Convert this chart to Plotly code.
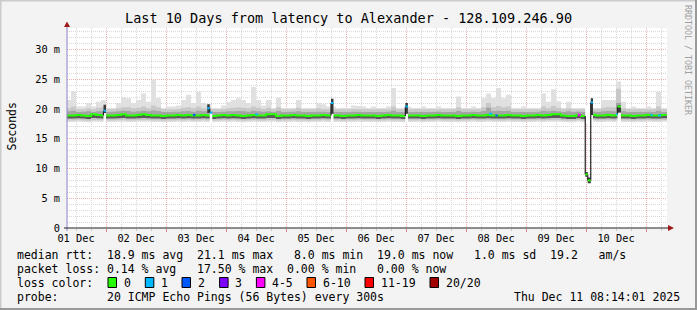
import plotly.graph_objects as go
import pandas as pd

# ---------------- data ----------------
title_text = "Last 10 Days from latency to Alexander - 128.109.246.90"
grid_start = "2025-12-01 08:00"   # first 2-hour sample
step_hours = 2
view_start = "2025-12-01 08:24"
view_end = "2025-12-11 08:24"

median_ms = [
    18.9, 18.9, 19.0, 18.9, 18.8, 19.1, 19.0, 18.9, 18.9, 18.9,
    19.0, 19.1, 18.9, 18.9, 19.0, 19.1, 19.0, 18.9, 18.9, 18.8,
    18.9, 18.9, 19.0, 18.9, 19.0, 18.9, 18.9, 19.0, 18.9, 18.8,
    18.9, 19.0, 18.9, 19.0, 18.9, 18.8, 18.9, 19.0, 18.9, 18.9,
    19.1, 19.1, 18.8, 18.9, 18.9, 19.0, 18.9, 18.9, 18.8, 18.9,
    18.9, 19.0, 18.9, 18.9, 18.9, 18.8, 18.9, 18.9, 19.0, 18.9,
    18.9, 18.9, 18.8, 18.9, 19.0, 18.9, 18.9, 18.8, 18.9, 18.9,
    18.9, 18.8, 18.9, 18.9, 19.0, 18.9, 18.9, 18.9, 18.8, 18.9,
    18.9, 19.0, 18.9, 18.9, 19.0, 18.9, 18.9, 18.9, 19.0, 18.9,
    18.9, 18.8, 18.9, 18.9, 19.0, 18.9, 19.0, 19.1, 19.1, 18.9,
    18.8, 18.8, 19.0, 18.8, 18.9, 19.0, 18.9, 18.9, 19.0, 18.9,
    19.0, 18.9, 18.9, 18.8, 18.9, 18.9, 19.0, 18.9, 18.9, 19.0, 19.0]

ping_max = [
    21.5, 23.0, 20.4, 20.4, 21.0, 20.4, 21.2, 21.5, 20.1, 20.1,
    21.0, 22.0, 21.8, 21.0, 21.5, 22.6, 21.2, 24.9, 21.8, 20.1,
    20.4, 20.4, 20.6, 21.5, 22.4, 21.0, 22.9, 21.0, 20.8, 20.1,
    20.1, 20.6, 21.2, 21.5, 21.8, 21.5, 21.0, 23.7, 21.5, 20.6,
    21.5, 20.1, 21.9, 20.1, 20.1, 20.1, 21.5, 20.1, 20.1, 20.1,
    21.0, 20.8, 20.4, 20.4, 20.1, 20.2, 20.1, 20.6, 20.5, 20.4,
    20.1, 20.4, 20.1, 20.1, 20.4, 23.5, 20.1, 20.1, 20.4, 20.1,
    20.1, 20.4, 20.1, 20.1, 20.4, 20.1, 20.1, 20.1, 22.1, 20.1,
    20.1, 20.4, 20.1, 21.8, 22.6, 21.8, 23.5, 21.8, 22.4, 20.1,
    20.1, 20.4, 20.1, 20.1, 20.1, 22.6, 21.2, 23.3, 21.3, 20.1,
    21.2, 20.1, 20.1, 20.1, 20.1, 20.1, 20.1, 21.5, 21.5, 21.5,
    24.6, 21.2, 20.1, 20.4, 20.1, 20.1, 20.4, 20.1, 22.9, 20.1, 20.1]

ping_p90 = [
    20.1, 20.4, 19.95, 19.95, 20.1, 19.95, 20.2, 20.3, 19.95, 19.95,
    20.1, 20.3, 20.3, 20.1, 20.2, 20.4, 20.1, 20.6, 20.3, 19.95,
    19.95, 19.95, 20.0, 20.2, 20.3, 20.1, 20.4, 20.1, 20.1, 19.95,
    19.95, 20.0, 20.1, 20.2, 20.3, 20.2, 20.1, 20.4, 20.2, 20.0,
    20.2, 19.95, 20.3, 19.95, 19.95, 19.95, 20.2, 19.95, 19.95, 19.95,
    20.1, 20.0, 19.95, 19.95, 19.95, 19.95, 19.95, 20.0, 20.0, 19.95,
    19.95, 19.95, 19.95, 19.95, 19.95, 20.4, 19.95, 19.95, 19.95, 19.95,
    19.95, 19.95, 19.95, 19.95, 19.95, 19.95, 19.95, 19.95, 20.3, 19.95,
    19.95, 19.95, 19.95, 20.3, 21.0, 20.3, 20.5, 20.3, 20.4, 19.95,
    19.95, 19.95, 19.95, 19.95, 19.95, 20.4, 20.1, 20.5, 20.2, 19.95,
    20.1, 19.95, 19.95, 19.95, 19.95, 19.95, 19.95, 20.2, 20.3, 20.3,
    23.4, 20.1, 19.95, 19.95, 19.95, 19.95, 19.95, 19.95, 20.4, 19.95, 19.95]

ping_p75 = [
    19.6, 19.7, 19.5, 19.55, 19.6, 19.5, 19.6, 19.65, 19.5, 19.55,
    19.6, 19.7, 19.65, 19.55, 19.6, 19.7, 19.6, 19.75, 19.65, 19.5,
    19.5, 19.55, 19.55, 19.6, 19.65, 19.55, 19.7, 19.6, 19.6, 19.5,
    19.5, 19.55, 19.6, 19.6, 19.65, 19.6, 19.55, 19.7, 19.6, 19.55,
    19.6, 19.5, 19.65, 19.5, 19.5, 19.55, 19.6, 19.5, 19.5, 19.5,
    19.55, 19.55, 19.5, 19.5, 19.5, 19.5, 19.5, 19.55, 19.55, 19.5,
    19.5, 19.5, 19.5, 19.5, 19.55, 19.7, 19.5, 19.5, 19.5, 19.5,
    19.5, 19.5, 19.5, 19.5, 19.55, 19.5, 19.5, 19.5, 19.65, 19.5,
    19.5, 19.55, 19.5, 19.65, 20.2, 19.65, 19.7, 19.65, 19.7, 19.5,
    19.5, 19.5, 19.5, 19.5, 19.55, 19.7, 19.6, 19.7, 19.6, 19.5,
    19.6, 19.5, 19.55, 19.5, 19.5, 19.55, 19.5, 19.6, 19.65, 19.6,
    21.0, 19.6, 19.5, 19.5, 19.5, 19.5, 19.55, 19.5, 19.7, 19.5, 19.5]

ping_p25 = [
    18.4, 18.4, 18.45, 18.4, 18.3, 18.5, 18.45, 18.4, 18.4, 18.4,
    18.45, 18.5, 18.4, 18.4, 18.45, 18.5, 18.45, 18.4, 18.4, 18.3,
    18.4, 18.4, 18.45, 18.4, 18.45, 18.4, 18.4, 18.45, 18.4, 18.3,
    18.4, 18.45, 18.4, 18.45, 18.4, 18.3, 18.4, 18.45, 18.4, 18.4,
    18.5, 18.5, 18.3, 18.4, 18.4, 18.45, 18.4, 18.4, 18.3, 18.4,
    18.4, 18.45, 18.4, 18.4, 18.4, 18.3, 18.4, 18.4, 18.45, 18.4,
    18.4, 18.4, 18.3, 18.4, 18.45, 18.4, 18.4, 18.3, 18.4, 18.4,
    18.4, 18.3, 18.4, 18.4, 18.45, 18.4, 18.4, 18.4, 18.3, 18.4,
    18.4, 18.45, 18.4, 18.4, 18.45, 18.4, 18.4, 18.4, 18.45, 18.4,
    18.4, 18.3, 18.4, 18.4, 18.45, 18.4, 18.45, 18.5, 18.5, 18.4,
    18.3, 18.3, 18.45, 18.3, 18.4, 18.45, 18.4, 18.4, 18.45, 18.4,
    18.45, 18.4, 18.4, 18.3, 18.4, 18.4, 18.45, 18.4, 18.4, 18.45, 18.45]

ping_p10 = [
    18.05, 18.05, 18.1, 18.05, 18.0, 18.1, 18.1, 18.05, 18.05, 18.05,
    18.1, 18.1, 18.05, 18.05, 18.1, 18.1, 18.1, 18.05, 18.05, 18.0,
    18.05, 18.05, 18.1, 18.05, 18.1, 18.05, 18.05, 18.1, 18.05, 18.0,
    18.05, 18.1, 18.05, 18.1, 18.05, 18.0, 18.05, 18.1, 18.05, 18.05,
    18.1, 18.1, 18.0, 18.05, 18.05, 18.1, 18.05, 18.05, 18.0, 18.05,
    18.05, 18.1, 18.05, 18.05, 18.05, 18.0, 18.05, 18.05, 18.1, 18.05,
    18.05, 18.05, 18.0, 18.05, 18.1, 18.05, 18.05, 18.0, 18.05, 18.05,
    18.05, 18.0, 18.05, 18.05, 18.1, 18.05, 18.05, 18.05, 18.0, 18.05,
    18.05, 18.1, 18.05, 18.05, 18.1, 18.05, 18.05, 18.05, 18.1, 18.05,
    18.05, 18.0, 18.05, 18.05, 18.1, 18.05, 18.1, 18.1, 18.1, 18.05,
    18.0, 18.0, 18.1, 18.0, 18.05, 18.1, 18.05, 18.05, 18.1, 18.05,
    18.1, 18.05, 18.05, 18.0, 18.05, 18.05, 18.1, 18.05, 18.05, 18.1, 18.1]

ping_min = [
    17.8, 17.8, 17.85, 17.8, 17.75, 17.85, 17.85, 17.8, 17.8, 17.8,
    17.85, 17.85, 17.8, 17.8, 17.85, 17.85, 17.85, 17.8, 17.8, 17.75,
    17.8, 17.8, 17.85, 17.8, 17.85, 17.8, 17.8, 17.85, 17.8, 17.75,
    17.8, 17.85, 17.8, 17.85, 17.8, 17.75, 17.8, 17.85, 17.8, 17.8,
    17.85, 17.85, 17.75, 17.8, 17.8, 17.85, 17.8, 17.8, 17.75, 17.8,
    17.8, 17.85, 17.8, 17.8, 17.8, 17.75, 17.8, 17.8, 17.85, 17.8,
    17.8, 17.8, 17.75, 17.8, 17.85, 17.8, 17.8, 17.75, 17.8, 17.8,
    17.8, 17.75, 17.8, 17.8, 17.85, 17.8, 17.8, 17.8, 17.75, 17.8,
    17.8, 17.85, 17.8, 17.8, 17.85, 17.8, 17.8, 17.8, 17.85, 17.8,
    17.8, 17.75, 17.8, 17.8, 17.85, 17.8, 17.85, 17.85, 17.85, 17.8,
    17.75, 17.75, 17.85, 17.75, 17.8, 17.85, 17.8, 17.8, 17.85, 17.8,
    17.85, 17.8, 17.8, 17.75, 17.8, 17.8, 17.85, 17.8, 17.8, 17.85, 17.85]

# short events (finer than the 2 h grid): loss spots, spikes and the drop
ev_start = ["2025-12-01 23:00", "2025-12-03 10:45", "2025-12-03 16:30", "2025-12-03 17:30",
            "2025-12-04 11:45", "2025-12-05 18:00", "2025-12-06 23:45", "2025-12-08 09:15",
            "2025-12-08 11:45", "2025-12-09 20:40", "2025-12-09 23:42", "2025-12-10 00:42",
            "2025-12-10 01:54", "2025-12-10 12:00", "2025-12-10 12:36", "2025-12-11 01:50",
            "2025-12-11 04:48"]
ev_hours = [1.0, 1.0, 1.0, 1.0, 1.0, 1.0, 1.0, 1.2, 1.0, 1.3, 1.0, 1.2, 0.9, 0.6, 1.4, 0.8, 1.2]
ev_median = [19.7, 19.0, 20.1, 19.4, 19.1, 21.0, 20.4, 19.2, 18.9, 19.0, 9.0, 8.0, 21.1, 19.1,
             20.4, 19.0, 18.9]
ev_loss = [1, 2, 1, 1, 1, 1, 1, 1, 2, 4, 0, 0, 1, 1, 0, 1, 1]
ev_clear_lo = [17.7, None, None, 17.7, None, 17.7, 17.7, None, None, None, 17.6, 17.6, 17.6,
               None, 17.6, None, None]
ev_clear_hi = [19.3, None, None, 19.2, None, 19.2, 19.2, None, None, None, 20.6, 20.6, 19.0,
               None, 19.4, None, None]
ev_dark_lo = [19.3, None, 19.3, None, None, 19.2, 19.2, None, None, None, 8.6, 7.5, 19.0,
              None, 19.4, None, None]
ev_dark_hi = [20.7, None, 20.8, None, None, 21.7, 21.0, None, None, None, 9.4, 8.5, 21.8,
              None, 20.6, None, None]

loss_labels = ["0", "1", "2", "3", "4-5", "6-10", "11-19", "20/20"]
loss_colors = ["#26ff00", "#00b8ff", "#0059ff", "#7e00ff", "#ff00ff", "#ff5500", "#ff0000", "#a00000"]
loss_upper = [0, 1, 2, 3, 5, 10, 19, 20]

y_tick_vals = [0, 5, 10, 15, 20, 25, 30]
y_tick_text = ["0", "5 m", "10 m", "15 m", "20 m", "25 m", "30 m"]

rtt_avg, rtt_max, rtt_min, rtt_now, rtt_sd, rtt_ams = 18.9, 21.1, 8.0, 19.0, 1.0, 19.2
loss_avg, loss_max, loss_min, loss_now = 0.14, 17.50, 0.00, 0.00
probe_text = "20 ICMP Echo Pings (56 Bytes) every 300s"
stamp_text = "Thu Dec 11 08:14:01 2025"

# ---------------- layout helpers ----------------
W, H = 697, 310
L, R, T, B = 67, 667, 28, 228
MONO = "DejaVu Sans Mono"


def px(x):
    return (x - L) / (R - L)


def py(y):
    return (B - y) / (B - T)


def bucket(loss):
    for k, up in enumerate(loss_upper):
        if loss <= up:
            return k
    return len(loss_upper) - 1


t0 = pd.Timestamp(grid_start)
n = len(median_ms)
starts = [t0 + pd.Timedelta(hours=step_hours * i) for i in range(n)]
step_h = [float(step_hours)] * n

fig = go.Figure()


def add_rects(x, hours, lo, hi, color):
    """Step-wise smoke band drawn as filled polygons (keeps trace order)."""
    xs, ys = [], []
    for xi, h, a, b in zip(x, hours, lo, hi):
        if a is None or b is None:
            continue
        e = xi + pd.Timedelta(hours=h)
        xs += [xi, e, e, xi, xi, None]
        ys += [a, a, b, b, a, None]
    fig.add_scatter(x=xs, y=ys, mode="lines", fill="toself", fillcolor=color,
                    line=dict(width=0, color=color), hoverinfo="skip", showlegend=False)


add_rects(starts, step_h, ping_min, ping_max, "#e0e0e0")
add_rects(starts, step_h, ping_p10, ping_p90, "#c8c8c8")
add_rects(starts, step_h, median_ms, ping_p75, "#a4a4a4")
add_rects(starts, step_h, ping_p25, median_ms, "#5a5a5a")

# main median line (green, step)
end_t = starts[-1] + pd.Timedelta(hours=step_hours)
fig.add_scatter(x=starts + [end_t], y=median_ms + [median_ms[-1]], mode="lines",
                line=dict(color=loss_colors[0], width=2, shape="hv"),
                hoverinfo="skip", showlegend=False)

# events
ev_t = [pd.Timestamp(s) for s in ev_start]
add_rects(ev_t, ev_hours, ev_clear_lo, ev_clear_hi, "#ffffff")
add_rects(ev_t, ev_hours, ev_dark_lo, ev_dark_hi, "#3a3a3a")

# dark connecting verticals for the gap events
vx, vy = [], []
for k in range(len(ev_t)):
    if ev_clear_lo[k] is None:
        continue
    if k > 0 and abs((ev_t[k - 1] + pd.Timedelta(hours=ev_hours[k - 1]) - ev_t[k]).total_seconds()) < 120:
        prev = ev_median[k - 1]
    else:
        idx = int((ev_t[k] - t0).total_seconds() // (step_hours * 3600))
        prev = median_ms[idx]
    vx += [ev_t[k], ev_t[k], None]
    vy += [prev, ev_median[k], None]
fig.add_scatter(x=vx, y=vy, mode="lines", line=dict(color="#202020", width=1.2),
                hoverinfo="skip", showlegend=False)

for b in range(len(loss_colors)):
    sx, sy = [], []
    for k in range(len(ev_t)):
        if bucket(ev_loss[k]) != b:
            continue
        sx += [ev_t[k], ev_t[k] + pd.Timedelta(hours=ev_hours[k]), None]
        sy += [ev_median[k], ev_median[k], None]
    if sx:
        fig.add_scatter(x=sx, y=sy, mode="lines", line=dict(color=loss_colors[b], width=2),
                        hoverinfo="skip", showlegend=False)

# ---------------- axes ----------------
major_grid = "#efb0b0"
minor_grid = "#d8d8d8"
fig.update_layout(
    width=W, height=H,
    margin=dict(l=L, r=W - R, t=T, b=H - B, pad=0),
    paper_bgcolor="#f3f3f3", plot_bgcolor="#ffffff",
    showlegend=False,
    font=dict(family=MONO, color="#000000"),
    xaxis=dict(type="date", range=[view_start, view_end], tick0="2025-12-01",
               dtick=86400000, tickformat="%d %b", ticklabelmode="period",
               showgrid=True, gridcolor=major_grid, griddash="1px,1px", gridwidth=1,
               ticks="outside", ticklen=3, tickcolor="#e08080", tickwidth=1,
               ticklabelstandoff=-2,
               tickfont=dict(family=MONO, size=10.3, color="#000000"),
               showline=False, zeroline=False, fixedrange=True,
               minor=dict(tick0="2025-12-01", dtick=21600000, showgrid=True,
                          gridcolor=minor_grid, griddash="1px,1px", gridwidth=1,
                          ticks="outside", ticklen=2, tickcolor="#cccccc")),
    yaxis=dict(range=[0, 33.6], tickmode="array", tickvals=y_tick_vals, ticktext=y_tick_text,
               showgrid=True, gridcolor=major_grid, griddash="1px,1px", gridwidth=1,
               ticks="", ticklabelstandoff=6,
               tickfont=dict(family=MONO, size=10.3, color="#000000"),
               showline=False, zeroline=False, fixedrange=True,
               minor=dict(tickmode="linear", tick0=0, dtick=1, showgrid=True,
                          gridcolor=minor_grid, griddash="1px,1px", gridwidth=1)),
)

shapes = []
# frame (3D border)
shapes.append(dict(type="line", xref="paper", yref="paper", x0=px(0.5), x1=px(0.5), y0=py(0), y1=py(H),
                   line=dict(color="#cbcbcb", width=2)))
shapes.append(dict(type="line", xref="paper", yref="paper", x0=px(0), x1=px(W), y0=py(0.5), y1=py(0.5),
                   line=dict(color="#cbcbcb", width=2)))
shapes.append(dict(type="line", xref="paper", yref="paper", x0=px(W - 1), x1=px(W - 1), y0=py(0), y1=py(H),
                   line=dict(color="#999999", width=2)))
shapes.append(dict(type="line", xref="paper", yref="paper", x0=px(0), x1=px(W), y0=py(H - 1), y1=py(H - 1),
                   line=dict(color="#999999", width=2)))
# axes and arrows
shapes.append(dict(type="line", xref="paper", yref="paper", x0=px(67), x1=px(67), y0=py(231), y1=py(26),
                   line=dict(color="#8b83c9", width=1)))
shapes.append(dict(type="line", xref="paper", yref="paper", x0=px(64), x1=px(669), y0=py(228), y1=py(228),
                   line=dict(color="#1f1f1f", width=1)))
shapes.append(dict(type="path", xref="paper", yref="paper",
                   path=f"M {px(64)},{py(27)} L {px(67)},{py(21.5)} L {px(70)},{py(27)} Z",
                   fillcolor="#9e1a1a", line=dict(width=0)))
shapes.append(dict(type="path", xref="paper", yref="paper",
                   path=f"M {px(668)},{py(225)} L {px(674)},{py(228)} L {px(668)},{py(231)} Z",
                   fillcolor="#9e1a1a", line=dict(width=0)))

# legend colour boxes
box_x = [108, 145.3, 182, 219.6, 256.4, 307, 365, 430]
label_x = [123.6, 160, 197, 234, 271, 322, 380, 445]
row_y = [254.5, 268.5, 282.5, 296.5]
for k, c in enumerate(loss_colors):
    shapes.append(dict(type="rect", xref="paper", yref="paper",
                       x0=px(box_x[k]), x1=px(box_x[k] + 8.5),
                       y0=py(row_y[2] - 5), y1=py(row_y[2] + 5),
                       fillcolor=c, line=dict(color="#000000", width=1)))
fig.update_layout(shapes=shapes)

NB = "\u00a0"


def mono(s):
    return s.replace(" ", NB)


line1 = (f"median rtt:  {rtt_avg:.1f} ms avg  {rtt_max:.1f} ms max   {rtt_min:.1f} ms min  "
         f"{rtt_now:.1f} ms now   {rtt_sd:.1f} ms sd  {rtt_ams:.1f}   am/s")
line2 = (f"packet loss: {loss_avg:.2f} % avg   {loss_max:.2f} % max  {loss_min:.2f} % min   "
         f"{loss_now:.2f} % now")
line4 = f"probe:       {probe_text}"

ann = []


def text(x, y, s, size=11.5, xanchor="left", color="#000000", angle=0, yanchor="middle"):
    ann.append(dict(xref="paper", yref="paper", x=px(x), y=py(y), text=mono(s), showarrow=False,
                    xanchor=xanchor, yanchor=yanchor, textangle=angle, borderpad=0,
                    font=dict(family=MONO, size=size, color=color)))


text(348, 18, title_text, size=13.5, xanchor="center")
text(11, 126.5, "Seconds", size=11.5, xanchor="center", angle=-90)
text(688, 4, "RRDTOOL / TOBI OETIKER", size=8.3, xanchor="center", color="#a0a0a0",
     angle=90, yanchor="top")
text(15.5, row_y[0], line1)
text(15.5, row_y[1], line2)
text(15.5, row_y[2], "loss color:")
for k, lab in enumerate(loss_labels):
    text(label_x[k] - 0.5, row_y[2], lab)
text(15.5, row_y[3], line4)
text(681, row_y[3], stamp_text, xanchor="right")
fig.update_layout(annotations=ann)

fig.write_html("out.html")
